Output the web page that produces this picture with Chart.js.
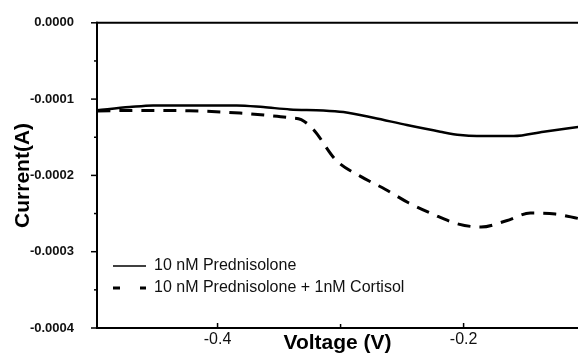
<!DOCTYPE html>
<html>
<head>
<meta charset="utf-8">
<script src="https://cdn.jsdelivr.net/npm/chart.js@4"></script>
<style>
    html, body { margin: 0; padding: 0; background: #fff; }
</style>
</head>
<body>
<canvas id="chart" width="578" height="356"></canvas>
<script>
// series names
const seriesNames = ['10 nM Prednisolone', '10 nM Prednisolone + 1nM Cortisol'];

// solid line: voltage (V) and current (A)
const solidV = [-0.4985, -0.4714, -0.4524, -0.3845, -0.3629, -0.3411, -0.314, -0.2977, -0.2733, -0.2461, -0.219, -0.2027, -0.1891, -0.1593, -0.1349, -0.1066];
const solidI = [-0.0001148, -0.0001105, -0.0001083, -0.0001083, -0.0001105, -0.0001135, -0.0001148, -0.000117, -0.0001244, -0.000134, -0.0001427, -0.0001471, -0.0001484, -0.0001484, -0.0001427, -0.0001366];

// dashed line
const dashV = [-0.4977, -0.466, -0.423, -0.3818, -0.36, -0.3411, -0.332, -0.3222, -0.3039, -0.2841, -0.2638, -0.2448, -0.2244, -0.2041, -0.1858, -0.1652, -0.1457, -0.1253, -0.1066];
const dashI = [-0.0001157, -0.0001148, -0.0001153, -0.0001183, -0.0001213, -0.0001244, -0.000127, -0.0001396, -0.0001797, -0.000201, -0.0002181, -0.0002359, -0.0002512, -0.0002638, -0.0002677, -0.0002595, -0.0002494, -0.0002507, -0.0002565];

// axis ticks
const xTicks = [-0.4, -0.2];
const xMinor = [-0.3];
const yTicks = [-0.0004, -0.0003, -0.0002, -0.0001, 0];
const yMinor = [-0.00035, -0.00025, -0.00015, -0.00005];

const toPoints = (xs, ys) => xs.map((x, i) => ({ x: x, y: ys[i] }));

// axis lines + tick marks (x ticks point in, y ticks point out)
const axesPlugin = {
    id: 'axes',
    afterLayout(chart) {
        // put legend in lower left of plot
        const lg = chart.legend;
        const h = lg.height, w = lg.width;
        lg.left = 107; lg.right = lg.left + w;
        lg.top = 252; lg.bottom = lg.top + h;
    },
    afterDraw(chart) {
        const ctx = chart.ctx, ca = chart.chartArea;
        const xs = chart.scales.x, ys = chart.scales.y;
        ctx.save();
        ctx.strokeStyle = '#000';
        ctx.lineWidth = 2;
        const line = (x1, y1, x2, y2) => { ctx.beginPath(); ctx.moveTo(x1, y1); ctx.lineTo(x2, y2); ctx.stroke(); };
        line(ca.left, ca.top - 1, ca.left, ca.bottom + 1);
        line(ca.left - 1, ca.bottom, ca.right, ca.bottom);
        line(ca.left - 1, ca.top, ca.right, ca.top);
        ctx.lineWidth = 1.5;
        yTicks.forEach(v => { const p = ys.getPixelForValue(v); line(ca.left - 6, p, ca.left, p); });
        yMinor.forEach(v => { const p = ys.getPixelForValue(v); line(ca.left - 3, p, ca.left, p); });
        xTicks.forEach(v => { const p = xs.getPixelForValue(v); line(p, ca.bottom, p, ca.bottom - 5); });
        xMinor.forEach(v => { const p = xs.getPixelForValue(v); line(p, ca.bottom, p, ca.bottom - 4); });
        ctx.restore();
    }
};

new Chart(document.getElementById('chart'), {
    type: 'line',
    data: {
        datasets: [
            {
                label: seriesNames[0],
                data: toPoints(solidV, solidI),
                borderColor: '#000',
                backgroundColor: '#000',
                borderWidth: 2.5,
                pointRadius: 0,
                pointStyle: 'line',
                cubicInterpolationMode: 'monotone'
            },
            {
                label: seriesNames[1],
                data: toPoints(dashV, dashI),
                borderColor: '#000',
                backgroundColor: '#000',
                borderWidth: 3,
                borderDash: [13, 9],
                pointRadius: 0,
                pointStyle: 'line',
                cubicInterpolationMode: 'monotone'
            }
        ]
    },
    options: {
        responsive: false,
        animation: false,
        layout: { padding: { left: 0, top: 22, right: 0, bottom: 0 } },
        plugins: {
            tooltip: { enabled: false },
            legend: {
                position: 'chartArea',
                align: 'start',
                labels: {
                    usePointStyle: true,
                    pointStyleWidth: 33,
                    padding: 6,
                    color: '#111',
                    font: { family: '"Liberation Sans", Arial, sans-serif', size: 16, lineHeight: 1.2 },
                    generateLabels: chart => {
                        const items = Chart.defaults.plugins.legend.labels.generateLabels(chart);
                        items.forEach(it => {
                            const ds = chart.data.datasets[it.datasetIndex];
                            it.lineDash = ds.borderDash ? [7, 20] : [];
                            it.lineWidth = ds.borderDash ? 3 : 1.5;
                        });
                        return items;
                    }
                }
            }
        },
        scales: {
            x: {
                type: 'linear',
                min: -0.498,
                max: -0.107,
                afterBuildTicks: s => { s.ticks = xTicks.map(v => ({ value: v })); },
                afterFit: s => { s.height = 28; },
                grid: { display: false },
                border: { display: false },
                ticks: {
                    color: '#111',
                    padding: -6,
                    maxRotation: 0,
                    font: { family: '"Liberation Sans", Arial, sans-serif', size: 16 },
                    callback: v => v.toFixed(1)
                },
                title: {
                    display: true,
                    text: 'Voltage (V)',
                    color: '#000',
                    padding: { top: 0, bottom: 0 },
                    font: { family: '"Liberation Sans", Arial, sans-serif', size: 21, weight: 'bold', lineHeight: 1.2 }
                }
            },
            y: {
                min: -0.0004,
                max: 0,
                afterBuildTicks: s => { s.ticks = yTicks.map(v => ({ value: v })); },
                afterFit: s => { s.width = 97; },
                grid: { display: false },
                border: { display: false },
                ticks: {
                    color: '#111',
                    padding: 15,
                    font: { family: '"Liberation Sans", Arial, sans-serif', size: 13, weight: 'bold' },
                    callback: v => v.toFixed(4)
                },
                title: {
                    display: true,
                    text: 'Current(A)',
                    color: '#000',
                    padding: { top: 11, bottom: 0 },
                    font: { family: '"Liberation Sans", Arial, sans-serif', size: 21, weight: 'bold', lineHeight: 1.2 }
                }
            }
        }
    },
    plugins: [axesPlugin]
});
</script>
</body>
</html>
